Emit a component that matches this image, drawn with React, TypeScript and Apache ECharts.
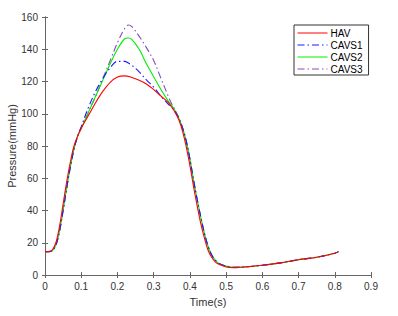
import React, { useEffect, useRef } from "react";
import * as echarts from "echarts";

const timeHAV = [0, 0.01, 0.02, 0.03, 0.04, 0.05, 0.06, 0.07, 0.08, 0.09, 0.1, 0.12, 0.14, 0.16, 0.18, 0.2, 0.22, 0.24, 0.26, 0.28, 0.3, 0.32, 0.34, 0.35, 0.36, 0.37, 0.38, 0.39, 0.4, 0.41, 0.42, 0.43, 0.44, 0.45, 0.46, 0.47, 0.48, 0.5, 0.52, 0.55, 0.6, 0.65, 0.7, 0.75, 0.8, 0.81];
const hav = [14.5, 14.5, 15.5, 20, 30, 44, 58, 70, 80, 86, 91, 99, 107, 114, 119.5, 122.8, 123.5, 122.5, 120.8, 118.5, 115, 111, 107, 104, 100.5, 96, 89, 79.5, 68, 55, 43, 32, 23, 15.5, 11, 8.2, 6.6, 5, 4.5, 5, 6, 7.5, 9.5, 11, 13.5, 14.5];

const timeCAVS = [0, 0.01, 0.02, 0.03, 0.04, 0.05, 0.06, 0.07, 0.08, 0.09, 0.1, 0.12, 0.14, 0.16, 0.18, 0.2, 0.22, 0.23, 0.24, 0.26, 0.28, 0.3, 0.32, 0.34, 0.35, 0.36, 0.37, 0.38, 0.39, 0.4, 0.41, 0.42, 0.43, 0.44, 0.45, 0.46, 0.47, 0.48, 0.5, 0.52, 0.55, 0.6, 0.65, 0.7, 0.75, 0.8, 0.81];
const cavs1 = [14.5, 14.5, 15, 18.5, 27, 40, 54, 67, 78, 86, 92, 104, 114, 122, 128.5, 132.5, 132.5, 131.5, 130, 126, 121, 116.5, 111, 106, 104, 101, 97, 91, 83, 72, 59, 47, 36, 26, 18, 12.5, 9.2, 7.2, 5.5, 4.8, 5, 6, 7.5, 9.5, 11, 13.5, 14.5];
const cavs2 = [14.5, 14.5, 15, 18.5, 27, 40, 54, 67, 78, 86, 91, 101, 111, 121, 131, 140, 146.5, 147, 146, 140, 131, 123, 115, 108, 105, 101.5, 97, 91, 83, 72, 59, 47, 36, 26, 18, 12.5, 9.2, 7.2, 5.5, 4.8, 5, 6, 7.5, 9.5, 11, 13.5, 14.5];
const cavs3 = [14.5, 14.5, 15, 18.5, 27, 40, 54, 67, 78, 86, 91, 101, 111, 122, 133, 144, 153, 155, 154, 148, 141, 133, 122, 111, 106, 102, 97, 91, 83, 72, 59, 47, 36, 26, 18, 12.5, 9.2, 7.2, 5.5, 4.8, 5, 6, 7.5, 9.5, 11, 13.5, 14.5];

const seriesNames = ["HAV", "CAVS1", "CAVS2", "CAVS3"];
const seriesColors = ["#ff0000", "#1a1aff", "#00ee00", "#8a4ab8"];

const xTicks = { min: 0, max: 0.9, interval: 0.1 };
const yTicks = { min: 0, max: 160, interval: 20 };

const FONT = "Liberation Sans, Arial, sans-serif";
const AXIS_COLOR = "#666666";
const LABEL_COLOR = "#333333";

function pairs(t: number[], v: number[]) {
  return t.map((x, i) => [x, v[i]]);
}

export default function App() {
  const ref = useRef<HTMLDivElement>(null);
  useEffect(() => {
    if (!ref.current) return;
    const chart = echarts.init(ref.current, undefined, { renderer: "svg" });
    const dashDot = [7, 3, 1.5, 3];
    const datasets = [
      pairs(timeHAV, hav),
      pairs(timeCAVS, cavs1),
      pairs(timeCAVS, cavs2),
      pairs(timeCAVS, cavs3),
    ];
    const lineTypes: any[] = ["solid", dashDot, "solid", dashDot];
    const commonAxisLine = { show: true, lineStyle: { color: AXIS_COLOR, width: 1 } };
    chart.setOption({
      animation: false,
      backgroundColor: "#ffffff",
      textStyle: { fontFamily: FONT },
      grid: { left: 45, right: 27, top: 17, bottom: 41, containLabel: false, outerBoundsMode: "none" },
      legend: {
        show: true,
        orient: "vertical",
        left: 294,
        top: 25,
        data: seriesNames,
        itemWidth: 30,
        itemHeight: 8,
        itemGap: 0,
        padding: [2, 6, 0, 3],
        borderColor: "#333333",
        borderWidth: 1,
        backgroundColor: "#ffffff",
        itemStyle: { opacity: 0 },
        lineStyle: { width: 1 },
        textStyle: { fontSize: 10, lineHeight: 12, color: "#000000", fontFamily: FONT, padding: [0, 0, 0, -2] },
      },
      xAxis: [
        {
          type: "value",
          ...xTicks,
          position: "bottom",
          name: "Time(s)",
          nameLocation: "middle",
          nameGap: 21,
          nameMoveOverlap: false,
          nameTextStyle: { fontSize: 11, color: LABEL_COLOR, fontFamily: FONT },
          axisLine: commonAxisLine,
          axisTick: { show: true, inside: true, length: 3, lineStyle: { color: AXIS_COLOR } },
          axisLabel: {
            fontSize: 10,
            color: LABEL_COLOR,
            margin: 6,
            fontFamily: FONT,
            formatter: (v: number) => String(Math.round(v * 10) / 10),
          },
          splitLine: { show: false },
        },
        {
          type: "value",
          ...xTicks,
          position: "top",
          axisLine: commonAxisLine,
          axisTick: { show: true, inside: true, length: 3, lineStyle: { color: AXIS_COLOR } },
          axisLabel: { show: false },
          splitLine: { show: false },
        },
      ],
      yAxis: [
        {
          type: "value",
          ...yTicks,
          position: "left",
          name: "Pressure(mmHg)",
          nameLocation: "middle",
          nameGap: 28,
          nameMoveOverlap: false,
          nameTextStyle: { fontSize: 11, color: LABEL_COLOR, fontFamily: FONT },
          axisLine: commonAxisLine,
          axisTick: { show: true, inside: true, length: 3, lineStyle: { color: AXIS_COLOR } },
          axisLabel: { fontSize: 10, color: LABEL_COLOR, margin: 7, fontFamily: FONT },
          splitLine: { show: false },
        },
        {
          type: "value",
          ...yTicks,
          position: "right",
          axisLine: commonAxisLine,
          axisTick: { show: true, inside: true, length: 3, lineStyle: { color: AXIS_COLOR } },
          axisLabel: { show: false },
          splitLine: { show: false },
        },
      ],
      series: seriesNames.map((name, i) => ({
        name,
        type: "line",
        xAxisIndex: 0,
        yAxisIndex: 0,
        data: datasets[i],
        smooth: 0.35,
        symbol: "none",
        showSymbol: false,
        itemStyle: { color: seriesColors[i] },
        lineStyle: { color: seriesColors[i], width: 1.1, type: lineTypes[i] },
        z: 4 - i,
      })),
    });
    return () => chart.dispose();
  }, []);
  return (
    <div
      ref={ref}
      style={{ position: "fixed", left: 0, top: 0, width: 398, height: 316 }}
    />
  );
}
